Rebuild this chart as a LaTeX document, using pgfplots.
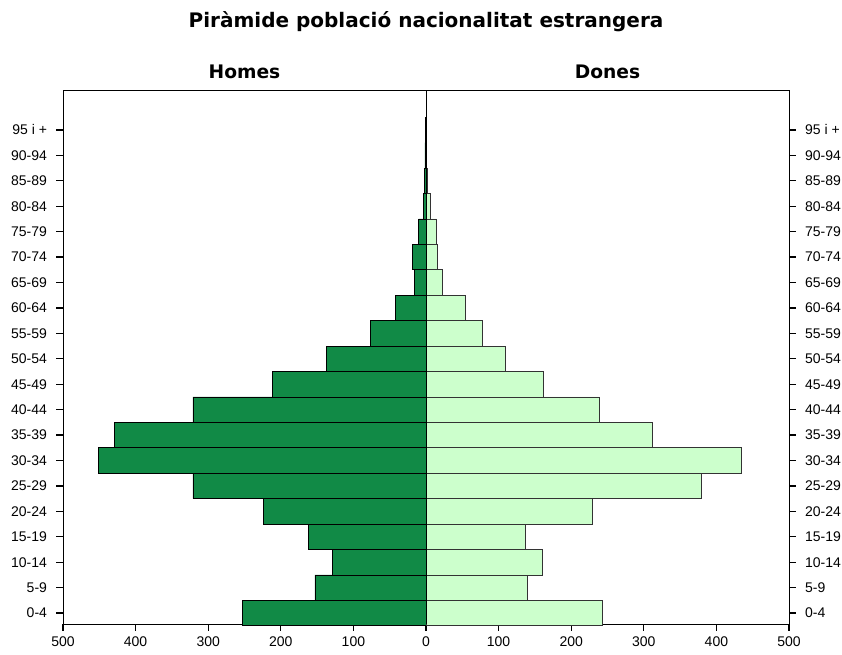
\documentclass[border=0pt]{standalone}
\usepackage{pgfplots}
\usepackage{pgfplotstable}
\pgfplotsset{compat=1.18}
\usepackage{fontspec}
\setmainfont{Liberation Sans}
\newfontfamily\titlefont{DejaVu Sans}
\definecolor{men}{RGB}{17,138,70}
\definecolor{women}{RGB}{204,255,204}

\pgfplotstableread{
idx men women
0 253 243
1 153 139
2 129 161
3 162 137
4 224 229
5 321 379
6 451 435
7 429 312
8 321 239
9 212 162
10 137 109
11 76 78
12 42 54
13 16 23
14 19 16
15 10 14
16 4 6.5
17 2 1.5
18 1.5 1
19 0.5 0.5
}\pyramid

\begin{document}
\begin{tikzpicture}
\path[use as bounding box] (-47.25pt,-23.25pt) rectangle (584.25pt,468pt);
\pgfplotsset{
  common/.style={
    at={(0pt,0pt)}, anchor=south west,
    scale only axis, width=544.5pt, height=400.5pt,
    xmin=-500, xmax=500, ymin=-0.43, ymax=20.57,
    tick align=outside, major tick length=5pt,
    xtick style={draw=black, line width=1pt},
    ytick style={draw=black, line width=1pt},
    ytick={0,...,19},
    yticklabels={0-4,5-9,10-14,15-19,20-24,25-29,30-34,35-39,40-44,45-49,50-54,55-59,60-64,65-69,70-74,75-79,80-84,85-89,90-94,95 i +},
    ticklabel style={font=\fontsize{10.5}{12}\selectfont},
    /pgf/number format/assume math mode=true,
    axis line style={black, line width=0.7pt},
  }
}
\begin{axis}[common,
  xtick={-500,-400,...,500},
  xticklabels={500,400,300,200,100,0,100,200,300,400,500},
  xtick pos=bottom,
  ytick pos=left,
  xticklabel style={yshift=-1pt},
  yticklabel style={xshift=-3.5pt},
  xbar, bar width=1, bar shift=0pt,
  clip=false,
]
\addplot[draw=black, fill=men, line width=0.6pt] table[x expr=-\thisrow{men}, y=idx] {\pyramid};
\addplot[draw=black!80, fill=women, line width=0.6pt] table[x=women, y=idx] {\pyramid};
\addplot[xbar=false, sharp plot, black, line width=0.6pt, mark=none] coordinates {(0,-0.43) (0,20.57)};
\node[font=\titlefont\bfseries\fontsize{14}{16}\selectfont, anchor=base] at ([yshift=8.5pt]axis description cs:0.25,1) {Homes};
\node[font=\titlefont\bfseries\fontsize{14}{16}\selectfont, anchor=base] at ([yshift=8.5pt]axis description cs:0.75,1) {Dones};
\node[font=\titlefont\bfseries\fontsize{15}{18}\selectfont, anchor=base] at ([yshift=47pt]axis description cs:0.5,1) {Piràmide població nacionalitat estrangera};
\end{axis}
\begin{axis}[common,
  hide x axis,
  axis y line*=right,
  ytick pos=right,
  yticklabel pos=right,
  yticklabel style={xshift=3.5pt},
]
\end{axis}
\end{tikzpicture}
\end{document}
